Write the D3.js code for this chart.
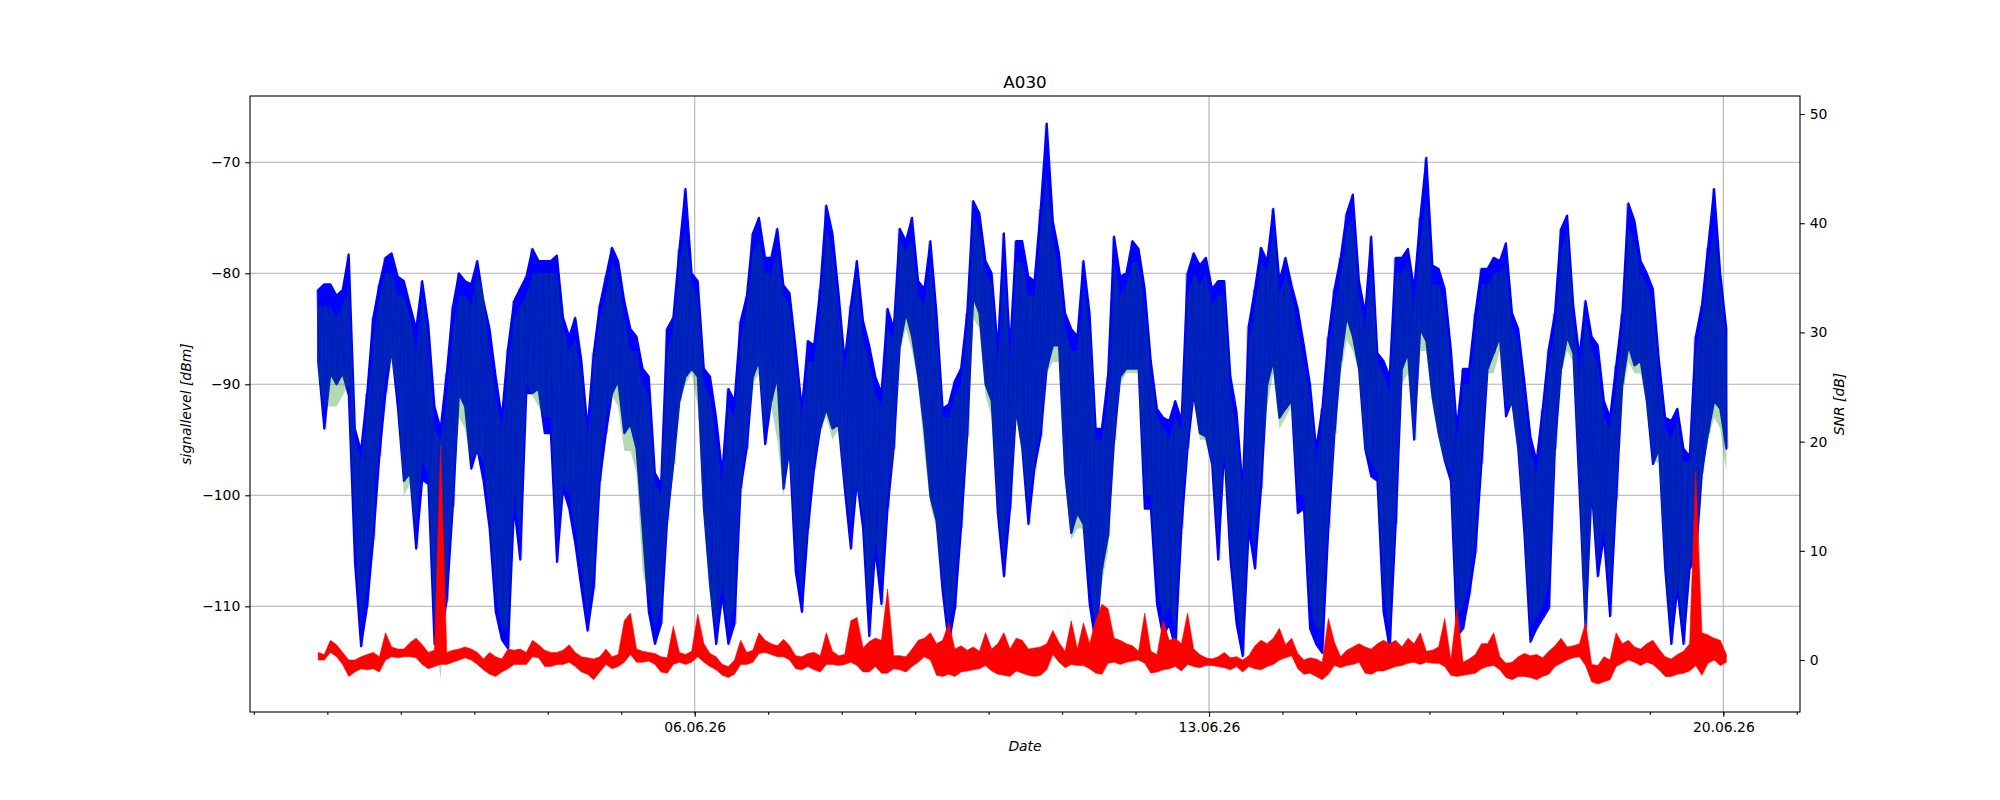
<!DOCTYPE html>
<html><head><meta charset="utf-8">
<script src="https://cdn.jsdelivr.net/npm/d3@7"></script>
<style>body{margin:0;background:#fff}svg{display:block}text{font-family:"DejaVu Sans",sans-serif}</style>
</head><body>
<script>
// ---- data (2-hour bins starting 31.05.26 21:00 UTC; hi/lo envelope per bin) ----
const startTime = Date.UTC(2026, 4, 31, 21);
const stepHours = 2;
const signalHi = [-81.5,-81,-81,-82,-81.5,-78.3,-94,-96,-90.8,-84,-81,-78.6,-78.2,-80.3,-80.7,-82.9,-85,-80.7,-84.7,-92,-94,-89,-83,-80,-80.7,-81,-78.9,-82.5,-85,-89.3,-93,-86.8,-82.5,-81.4,-80.3,-77.8,-78.9,-78.9,
-78.9,-78.4,-84,-85.7,-84,-87.9,-94,-87.2,-82.9,-80.3,-77.7,-78.9,-82.5,-85,-85.7,-88.6,-89.3,-98,-99,-85,-84,-77.8,-72.4,-80,-80.7,-88.6,-89.3,-93,-98,-90.4,-91.5,-84.3,-82.1,-76.4,-75,-78.6,-78.6,-76,
-81.1,-81.8,-86.8,-92.2,-86.1,-86.5,-81.4,-73.9,-76.4,-81.8,-87.9,-82.9,-78.9,-84.3,-86.5,-89.3,-90.8,-83.2,-85,-76,-77.1,-75,-80.7,-81.4,-77.1,-83.6,-92.2,-91.8,-89.7,-88.6,-83.6,-73.5,-74.6,-78.9,-80,-86.8,-76.4,-86.8,-77.1,
-77.1,-80.3,-80.7,-74.2,-66.5,-75.3,-78.2,-83.6,-85,-85.7,-78.9,-83.6,-94,-94,-89.3,-76.7,-80.3,-80,-77.1,-77.8,-81.4,-87.9,-92.2,-93,-93.3,-91.5,-93.3,-80,-78.2,-79.3,-78.6,-81.4,-80.7,-80.7,-89.3,-92.5,-99.4,-84.7,
-81.4,-77.7,-78.9,-74.2,-80.7,-78.6,-81.1,-83.2,-86.5,-90,-95.8,-92.2,-85.7,-81.4,-78.6,-74.6,-72.9,-80.7,-83.6,-76.7,-87.2,-87.9,-89.3,-78.6,-78.6,-77.8,-81.4,-75,-69.6,-79.3,-79.6,-81.4,-86.8,-94,-88.6,-88.6,-83.6,-79.6,-79.6,
-78.6,-78.9,-77.3,-83.6,-85,-89.7,-94.7,-96.9,-92.2,-86.8,-83.6,-76,-74.8,-82.9,-87.5,-82.5,-85.7,-86.5,-91.5,-93,-88.3,-83.6,-73.7,-75.3,-78.9,-80,-81.4,-87.9,-93,-93.3,-92.2,-95.8,-96.5,-85.7,-82.9,-77.7,-72.4,-80,-85];
const signalLo = [-88,-94,-89,-90,-89,-91,-106,-113.6,-110,-104,-96.5,-90.8,-86.8,-92,-98.7,-98,-104.8,-98.6,-99,-113.4,-113,-109.5,-101,-90.8,-92,-97.6,-95.8,-98.7,-103,-110.5,-113,-113.8,-101,-105.8,-90.8,-90.8,-90.4,-94.4,
-94.4,-106,-99.4,-101.2,-104.4,-108.4,-112.2,-108.4,-98.7,-94.4,-90.8,-89.7,-94.4,-93.6,-95.8,-103,-110.5,-113.4,-111.6,-102.3,-97.2,-91.5,-89.3,-88.6,-89.3,-101.2,-108,-113.4,-109,-113.4,-111.6,-99.4,-95.8,-89.3,-87.9,-95.4,-91.5,-89.3,
-99.4,-95.8,-106.9,-110.5,-103,-97.6,-94,-92.2,-94,-93.6,-99.4,-104.8,-98.7,-103,-112.7,-104.8,-109.8,-101.2,-95.8,-86.5,-83.6,-85.7,-89.3,-94,-100.1,-102.3,-108.7,-113.4,-110.2,-103,-94.7,-82.1,-83.6,-90,-91.5,-101.6,-107.3,-101.2,-92.2,
-95.8,-102.6,-97.6,-94.7,-88.6,-86.5,-86.5,-98,-103.4,-101.6,-102.6,-109.8,-113.4,-106.6,-103.7,-95,-89.3,-88.6,-88.6,-88.6,-101.2,-101.2,-109.8,-112.7,-111.6,-113.8,-103,-95.8,-90.8,-94.4,-94.7,-97.2,-105.8,-95.8,-105.8,-111.6,-114.5,-103,
-106.6,-99.4,-90,-87.9,-93,-92.2,-91.5,-101.6,-101.2,-112,-113.4,-114.2,-103,-94.4,-87.9,-83.9,-85.7,-88.6,-95.8,-98.3,-98.7,-110.5,-113.8,-102.6,-88.6,-87.2,-95,-85,-86.1,-91.1,-94.4,-96.9,-98.7,-112.7,-112,-109,-105.2,-97.2,-88.6,
-87.2,-85.7,-92.9,-91.5,-95.8,-103.4,-113.2,-112,-111.1,-110.2,-95.8,-88.6,-85.7,-87.2,-99.4,-112,-99.4,-107.3,-103.7,-110.9,-100.4,-90,-86.5,-88.3,-87.9,-91.5,-97.2,-95.8,-106.6,-113.4,-108.4,-113.4,-106.6,-105.8,-98,-94.4,-91.5,-92.2,-95.8];
const refHi = [-83,-83,-83,-84,-83,-81,-95,-97,-92,-86,-82,-80,-80,-82,-82,-84,-87,-82,-86,-94,-95,-91,-85,-82,-82,-83,-80,-82,-87,-91,-94,-88,-84,-83,-82,-80,-80,-80,
-80,-80,-85,-87,-86,-89,-95,-88,-84,-82,-79,-80,-84,-87,-87,-90,-91,-99,-100,-87,-85,-79,-76,-81,-82,-90,-91,-95,-99,-92,-93,-86,-83,-78,-77,-80,-80,-78,
-82,-83,-88,-93,-88,-88,-83,-76,-78,-83,-89,-84,-80,-86,-88,-91,-92,-85,-86,-77,-78,-77,-82,-83,-79,-85,-93,-93,-91,-90,-85,-75,-76,-80,-81,-88,-79,-88,-79,
-79,-82,-82,-76,-71,-77,-80,-85,-87,-87,-81,-85,-95,-95,-91,-79,-82,-81,-79,-79,-83,-89,-93,-94,-95,-93,-94,-82,-80,-81,-80,-83,-82,-82,-91,-94,-100,-86,
-83,-79,-80,-76,-82,-80,-82,-85,-88,-91,-97,-93,-87,-83,-80,-76,-75,-82,-85,-79,-88,-89,-91,-80,-80,-79,-83,-77,-73,-81,-81,-83,-88,-95,-90,-90,-85,-81,-81,
-80,-80,-79,-85,-86,-91,-96,-98,-93,-88,-85,-78,-76,-84,-89,-84,-87,-88,-93,-94,-90,-85,-76,-77,-80,-81,-83,-89,-94,-95,-93,-97,-97,-87,-84,-79,-76,-81,-86];
const refLo = [-89,-92,-92,-92,-91,-90,-104,-112,-108,-103,-95,-89,-88,-91,-100,-99,-103,-97,-98,-112,-116.6,-108,-100,-93,-94,-97,-96,-97,-102,-109,-112,-112,-100,-104,-90,-91,-92,-93,
-93,-104,-99,-100,-103,-107,-111,-107,-98,-93,-91,-92,-96,-96,-98,-107,-109,-112,-110,-102,-98,-92,-90,-89,-92,-102,-109,-112,-108,-112,-110,-99,-95,-90,-89,-94,-92,-95,
-100,-96,-105,-109,-102,-97,-94,-93,-95,-94,-99,-103,-99,-102,-111,-104,-108,-100,-96,-87,-85,-87,-90,-96,-101,-103,-108,-112,-109,-102,-95,-84,-85,-91,-93,-101,-106,-100,-93,
-96,-101,-97,-94,-89,-88,-88,-99,-104,-103,-103,-108,-112,-108,-105,-95,-90,-89,-89,-89,-100,-100,-108,-111,-110,-112,-102,-95,-91,-95,-95,-97,-104,-96,-105,-110,-113,-102,
-105,-98,-92,-89,-94,-93,-92,-100,-100,-110,-112,-112,-102,-95,-89,-86,-87,-89,-96,-97,-98,-109,-112,-101,-90,-89,-95,-87,-87,-92,-95,-97,-98,-111,-110,-108,-104,-96,-89,
-89,-87,-92,-92,-96,-103,-112,-111,-110,-108,-96,-89,-87,-88,-99,-114,-100,-106,-103,-109,-100,-91,-88,-89,-89,-92,-97,-97,-106,-112,-108,-112,-106,-105,-98,-95,-93,-94,-98];
const snrHi = [0.7,0.5,1.8,1.4,0.7,0,0,0.3,0.5,0.7,0.3,2.5,1.2,1.0,1.0,1.6,2.0,1.4,0.7,0.9,19.7,0.7,0.9,1.0,1.2,1.0,0.7,0.1,0.7,0.3,0.1,1.0,0.9,1.0,0.7,1.8,1.4,0.9,
0.7,0.7,0.9,1.4,0.7,0.3,0.2,0.1,0.3,1.0,0.3,0.5,3.6,4.3,1.0,0.8,0.7,0.6,0.3,0.2,3.1,0.7,0.5,0.8,4.2,1.5,0.6,0.3,-0.4,-0.6,0.0,1.8,0.7,0.9,2.5,1.8,1.5,1.3,
1.9,1.3,0.4,0.3,0.6,0.7,0.4,2.5,0.8,0.4,0.5,3.6,3.9,1.1,1.7,2.0,1.8,6.5,0.4,0.4,0.3,1.0,1.8,2.0,2.5,1.5,1.8,3.4,1.0,1.3,0.9,1.2,0.8,2.5,1.0,1.5,2.5,1.0,2.0,
1.8,1.0,1.1,1.2,1.5,2.7,1.6,0.8,3.6,1.0,3.4,1.5,3.6,5.1,4.7,2.0,1.8,1.5,1.3,0.8,4.3,0.8,0.5,3.6,1.8,2.0,1.5,4.3,1.0,0.5,0.2,0.1,0.3,0.7,0.2,0.3,0.0,0.4,
1.3,1.8,1.5,2.0,2.9,1.4,2.0,0.6,0.0,0.2,0.1,-0.2,3.8,1.6,0.3,0.9,1.2,1.5,1.2,1.0,1.5,1.8,1.5,1.8,1.2,2.0,1.5,2.5,0.8,0.9,1.2,3.8,0.0,4.7,-0.2,0.1,0.5,1.5,1.5,
2.5,0.3,-0.3,-0.2,0.3,0.6,0.4,0.5,0.2,0.8,1.3,2.0,1.2,1.3,1.5,3.4,-0.4,-0.5,0.3,0.0,2.5,1.5,1.8,1.2,1.0,1.5,1.8,1.0,0.3,0.1,0.5,0.8,1.5,17.3,2.5,2.3,2.0,1.8,0.5];
const snrLo = [0,0,0.7,0.3,-0.4,-1.5,-1.1,-0.8,-0.9,-0.8,-1.1,0,0.3,0.2,0.3,0.3,0.2,-0.4,-0.8,-0.6,-0.4,-0.4,-0.2,0,0.2,0,-0.4,-0.9,-1.3,-1.5,-1.1,-0.8,-0.4,-0.4,-0.4,0.3,0.2,-0.6,
-0.6,-0.4,-0.4,-0.2,-0.6,-1.1,-1.3,-1.8,-1.1,-0.4,-0.8,-0.6,-0.2,0.5,-0.2,-0.2,-0.1,-0.4,-1.1,-1.2,-0.4,-0.2,-0.4,-0.2,0.3,-0.2,-0.6,-0.9,-1.4,-1.6,-1.3,-0.4,-0.4,-0.2,0.6,0.7,0.5,0.3,
0.3,0.0,-0.8,-0.9,-0.6,-0.9,-1.1,-0.4,-0.4,-0.5,-0.4,-0.2,-0.5,-1.1,-1.1,-0.6,-1.2,-1.2,-0.8,-0.9,-1.1,-0.6,-0.2,0.3,0.0,-1.4,-1.5,-1.3,-1.5,-1.1,-1.0,-0.9,-0.8,-0.5,-1.0,-1.3,-1.4,-1.5,-1.0,
-1.2,-1.4,-1.5,-1.4,-0.9,0.5,-0.2,-0.7,-0.4,-0.5,-0.5,-0.8,-1.2,-1.3,-0.3,-0.2,-0.4,-0.2,-0.1,0.0,-0.3,-1.2,-1.1,-0.9,-0.8,-0.6,-1.0,-0.4,-0.6,-0.7,-0.5,-0.5,-0.6,-0.7,-0.9,-0.6,-1.1,-0.6,
-0.8,-0.9,-0.6,-0.4,0.0,0.2,0.4,-0.8,-1.3,-1.2,-1.5,-1.8,-1.3,-0.5,-0.7,-0.5,-0.4,-0.2,-1.2,-1.3,-1.0,-1.0,-0.8,-0.6,-0.5,-0.3,-0.2,-0.4,-0.2,-0.3,-0.3,-0.6,-1.4,-1.5,-1.4,-1.3,-1.2,-0.8,-0.6,
-0.5,-0.9,-1.6,-1.8,-1.5,-1.5,-1.6,-1.8,-1.5,-1.3,-0.6,-0.3,0.0,0.2,0.3,-0.5,-2.0,-2.2,-2.0,-1.8,-0.6,-0.3,0.0,-0.2,-0.5,-0.2,-0.4,-0.9,-1.5,-1.5,-1.3,-1.2,-1.0,-0.5,-1.4,-0.3,0.0,-0.5,-0.2];
const xTickDates = ["2026-06-06", "2026-06-13", "2026-06-20"];
const xTickLabels = ["06.06.26", "13.06.26", "20.06.26"];
const leftTicks = [-110, -100, -90, -80, -70];
const rightTicks = [0, 10, 20, 30, 40, 50];
const titleText = "A030";

// ---- layout ----
const W = 2000, Hh = 800;
const L = 250, R = 1800, T = 96, B = 712;
const HOUR = 3600e3;
const svg = d3.select("body").append("svg").attr("width", W).attr("height", Hh);

const x = d3.scaleUtc()
  .domain([new Date(Date.UTC(2026, 4, 30, 22, 44)), new Date(Date.UTC(2026, 5, 21, 1, 3))])
  .range([L, R]);
const yL = d3.scaleLinear().domain([-119.52, -64.03]).range([B, T]);
const yR = d3.scaleLinear().domain([-4.76, 51.65]).range([B, T]);

const minus = d => d < 0 ? "\u2212" + Math.abs(d) : String(d);

// grid
const grid = svg.append("g").attr("stroke", "#b0b0b0").attr("stroke-width", 1.1);
xTickDates.forEach(s => {
  const xv = x(new Date(s + "T00:00:00Z"));
  grid.append("line").attr("x1", xv).attr("x2", xv).attr("y1", T).attr("y2", B);
});
leftTicks.forEach(v => {
  grid.append("line").attr("x1", L).attr("x2", R).attr("y1", yL(v)).attr("y2", yL(v));
});

// clip
svg.append("clipPath").attr("id", "clip").append("rect")
  .attr("x", L).attr("y", T).attr("width", R - L).attr("height", B - T);

function band(hi, lo) {
  return hi.map((h, i) => ({ t: new Date(startTime + i * stepHours * HOUR), hi: h, lo: lo[i] }));
}
function zig(hi, lo) {
  const pts = [];
  hi.forEach((h, i) => {
    const t = startTime + i * stepHours * HOUR;
    pts.push({ t: new Date(t - 0.5 * HOUR), v: h });
    pts.push({ t: new Date(t + 0.5 * HOUR), v: lo[i] });
  });
  return pts;
}
const plot = svg.append("g").attr("clip-path", "url(#clip)");
const areaL = d3.area().x(d => x(d.t)).y0(d => yL(d.lo)).y1(d => yL(d.hi));
const areaR = d3.area().x(d => x(d.t)).y0(d => yR(d.lo)).y1(d => yR(d.hi));
const lineL = d3.line().x(d => x(d.t)).y(d => yL(d.v));

// signal level (blue), dense envelope + individual strokes
plot.append("path").attr("d", areaL(band(signalHi, signalLo)))
  .attr("fill", "#0000ff").attr("stroke", "#0000ff").attr("stroke-width", 2.08)
  .attr("stroke-linejoin", "round");
// reference level (green dotted, semi-transparent) overlaying the blue
plot.append("path").attr("d", areaL(band(refHi, refLo)))
  .attr("fill", "#008000").attr("fill-opacity", 0.3).attr("stroke", "none");
plot.append("path").attr("d", lineL(zig(signalHi, signalLo)))
  .attr("fill", "none").attr("stroke", "#0000ff").attr("stroke-opacity", 0.35)
  .attr("stroke-width", 1.2);
// SNR (red)
plot.append("path").attr("d", areaR(band(snrHi, snrLo)))
  .attr("fill", "#ff0000").attr("stroke", "#ff0000").attr("stroke-width", 0.6)
  .attr("stroke-linejoin", "round");

// axes
const fs = 13.9;
function styleAxis(g) {
  g.select(".domain").remove();
  g.selectAll("line").attr("stroke", "#000").attr("stroke-width", 1.1);
  g.selectAll("text").attr("font-size", fs).attr("fill", "#000").attr("font-family", "DejaVu Sans");
}
const xMinor = d3.axisBottom(x).ticks(d3.utcDay.every(1)).tickSize(2.8).tickFormat("");
svg.append("g").attr("transform", `translate(0,${B})`).call(xMinor).call(styleAxis);
const xMajor = d3.axisBottom(x)
  .tickValues(xTickDates.map(s => new Date(s + "T00:00:00Z")))
  .tickFormat((d, i) => xTickLabels[i]).tickSize(4.86).tickPadding(4.86);
svg.append("g").attr("transform", `translate(0,${B})`).call(xMajor).call(styleAxis);

const yAxisL = d3.axisLeft(yL).tickValues(leftTicks).tickFormat(minus).tickSize(4.86).tickPadding(4.86);
svg.append("g").attr("transform", `translate(${L},0)`).call(yAxisL).call(styleAxis);
const yAxisR = d3.axisRight(yR).tickValues(rightTicks).tickFormat(minus).tickSize(4.86).tickPadding(4.86);
svg.append("g").attr("transform", `translate(${R},0)`).call(yAxisR).call(styleAxis);

// spines
svg.append("rect").attr("x", L).attr("y", T).attr("width", R - L).attr("height", B - T)
  .attr("fill", "none").attr("stroke", "#000").attr("stroke-width", 1.1);

// labels
svg.append("text").attr("x", (L + R) / 2).attr("y", 87.7).attr("text-anchor", "middle")
  .attr("font-size", 16.7).text(titleText);
svg.append("text").attr("x", (L + R) / 2).attr("y", 751).attr("text-anchor", "middle")
  .attr("font-size", fs).attr("font-style", "italic").text("Date");
svg.append("text").attr("transform", `translate(191,${(T + B) / 2}) rotate(-90)`)
  .attr("text-anchor", "middle").attr("font-size", fs).attr("font-style", "italic")
  .text("signallevel [dBm]");
svg.append("text").attr("transform", `translate(1844,${(T + B) / 2}) rotate(-90)`)
  .attr("text-anchor", "middle").attr("font-size", fs).attr("font-style", "italic")
  .text("SNR [dB]");
</script>
</body></html>
